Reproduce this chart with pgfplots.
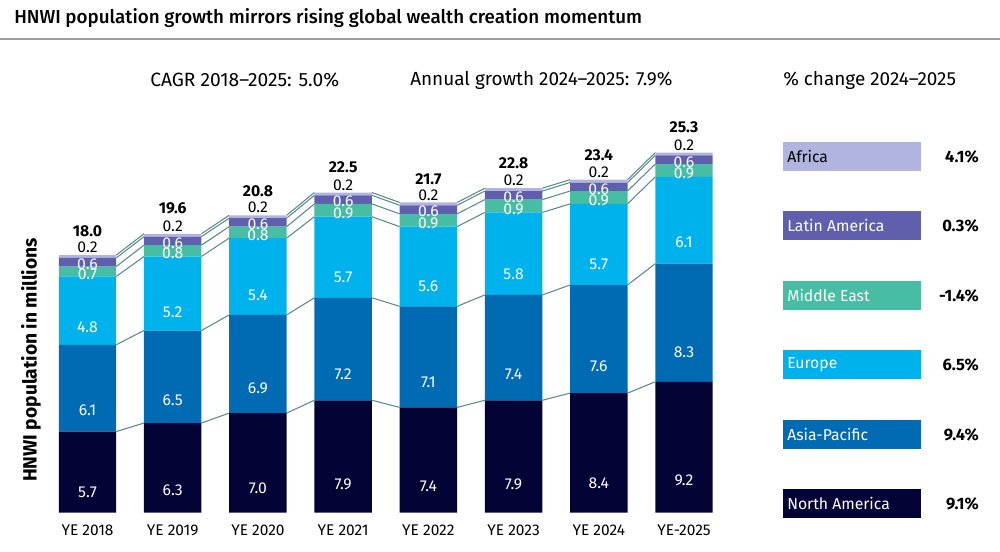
\documentclass[border=0pt]{standalone}
\usepackage{pgfplots}
\pgfplotsset{compat=1.18}
\usepackage{pgfplotstable}
\usepackage{fontspec}
\setmainfont{Fira Sans}
\newfontfamily\titlefont{Fira Sans Medium}

\definecolor{cNA}{HTML}{030336}
\definecolor{cAP}{HTML}{006AB3}
\definecolor{cEU}{HTML}{00B2EB}
\definecolor{cME}{HTML}{47BDA4}
\definecolor{cLA}{HTML}{5F5FAD}
\definecolor{cAF}{HTML}{B0B4DE}
\definecolor{cLink}{HTML}{5E8A8C}

% HNWI population (millions) by region, year-end
\pgfplotstableread{
x  na   ap   eu   me   la   af   tot
0  5.7  6.1  4.8  0.7  0.6  0.2  18.0
1  6.3  6.5  5.2  0.8  0.6  0.2  19.6
2  7.0  6.9  5.4  0.8  0.6  0.2  20.8
3  7.9  7.2  5.7  0.9  0.6  0.2  22.5
4  7.4  7.1  5.6  0.9  0.6  0.2  21.7
5  7.9  7.4  5.8  0.9  0.6  0.2  22.8
6  8.4  7.6  5.7  0.9  0.6  0.2  23.4
7  9.2  8.3  6.1  0.9  0.6  0.2  25.3
}\hnwi
% running sums = segment boundaries of the stacks
\pgfplotstablecreatecol[create col/expr={\thisrow{na}}]{c1}\hnwi
\pgfplotstablecreatecol[create col/expr={\thisrow{c1}+\thisrow{ap}}]{c2}\hnwi
\pgfplotstablecreatecol[create col/expr={\thisrow{c2}+\thisrow{eu}}]{c3}\hnwi
\pgfplotstablecreatecol[create col/expr={\thisrow{c3}+\thisrow{me}}]{c4}\hnwi
\pgfplotstablecreatecol[create col/expr={\thisrow{c4}+\thisrow{la}}]{c5}\hnwi
\pgfplotstablecreatecol[create col/expr={\thisrow{c5}+\thisrow{af}}]{c6}\hnwi

\newcommand{\fs}[1]{\fontsize{#1}{#1}\selectfont}

\pgfplotsset{
  hnwigeom/.style={
    at={(axisorigin)}, anchor=origin,
    scale only axis, width=511.3pt, height=277.5pt,
    xmin=-0.5, xmax=7.5, ymin=0, ymax=26, enlargelimits=false,
  },
}

\begin{document}
\begin{tikzpicture}[x=0.75pt,y=0.75pt]
\useasboundingbox (0,0) rectangle (1000,552);
\coordinate (axisorigin) at (87.5,39.3);

% title and rule
\node[anchor=west, inner sep=0pt] at (14,534) {\fs{14.1}\titlefont HNWI population growth mirrors rising global wealth creation momentum};
\draw[gray!75, line width=1pt] (0,513) -- (1000,513);

% headers
\node[anchor=west, inner sep=0pt] at (150,472) {\fs{14.4}CAGR 2018--2025: 5.0\%};
\node[anchor=west, inner sep=0pt] at (410,472) {\fs{14.2}Annual growth 2024--2025: 7.9\%};
\node[anchor=west, inner sep=0pt] at (783,472) {\fs{14.2}\% change 2024--2025};

% y label
\node[rotate=90, inner sep=0pt] at (31,192) {\fs{14.4}\bfseries HNWI population in millions};

\begin{axis}[
  hnwigeom,
  ybar stacked, bar width=43.1pt,
  axis line style={draw=none}, major tick length=0pt,
  ytick=\empty,
  xtick={0,...,7},
  xticklabels={YE 2018,YE 2019,YE 2020,YE 2021,YE 2022,YE 2023,YE 2024,YE-2025},
  xticklabel style={font=\fs{11.6}, yshift=-5.5pt},
  /pgf/number format/fixed, /pgf/number format/fixed zerofill,
  /pgf/number format/precision=1, /pgf/number format/assume math mode=true,
  nodes near coords,
  visualization depends on=rawy \as \rawy,
  every node near coord/.append style={anchor=center, text=white, font=\fs{11.8},
    shift={(axis direction cs:0,-\rawy/4)}},
]
\addplot[fill=cNA, draw=none] table[x=x, y=na] \hnwi;
\addplot[fill=cAP, draw=none] table[x=x, y=ap] \hnwi;
\addplot[fill=cEU, draw=none] table[x=x, y=eu] \hnwi;
\addplot[fill=cME, draw=none] table[x=x, y=me] \hnwi;
\addplot[fill=cLA, draw=none] table[x=x, y=la] \hnwi;
\addplot[fill=cAF, draw=none,
  every node near coord/.style={anchor=center, text=black, font=\fs{11.8}, yshift=6.75pt}]
  table[x=x, y=af] \hnwi;
\end{axis}

\begin{axis}[
  hnwigeom, hide axis,
  /pgf/number format/fixed, /pgf/number format/fixed zerofill,
  /pgf/number format/precision=1, /pgf/number format/assume math mode=true,
]
% links between the segment boundaries of neighbouring bars
\pgfplotsinvokeforeach{c1,c2,c3,c4,c5,c6}{
  \pgfplotsforeachungrouped \i in {0,...,6}{
    \pgfmathtruncatemacro\j{\i+1}
    \pgfplotstablegetelem{\i}{#1}\of\hnwi \let\ya\pgfplotsretval
    \pgfplotstablegetelem{\j}{#1}\of\hnwi \let\yb\pgfplotsretval
    \pgfmathsetmacro\xa{\i+0.3375}
    \pgfmathsetmacro\xb{\j-0.3375}
    \edef\seg{\noexpand\addplot[cLink, line width=0.8pt, mark=none] coordinates {(\xa,\ya) (\xb,\yb)};}
    \seg
  }
}
% totals
\addplot[draw=none, mark=none, nodes near coords,
  every node near coord/.style={anchor=center, text=black, font=\fs{11.8}\bfseries, yshift=18.75pt}]
  table[x=x, y=tot] \hnwi;
\end{axis}

% legend with 2024-2025 change
\foreach \c/\lab/\tc/\pc/\yy in {
  cAF/Africa/black/4.1/156.7,
  cLA/Latin America/white/0.3/225.8,
  cME/Middle East/white/-1.4/295.5,
  cEU/Europe/white/6.5/364.7,
  cAP/Asia-Pacific/white/9.4/434.7,
  cNA/North America/white/9.1/503.8}{
  \fill[\c] (782.5,{552-\yy-14.35}) rectangle (921,{552-\yy+14.35});
  \node[anchor=west, inner sep=0pt, text=\tc] at (787,{552-\yy}) {\fs{11.8}\lab};
  \node[anchor=east, inner sep=0pt] at (979,{552-\yy}) {\fs{12.4}\bfseries \pc\%};
}
\end{tikzpicture}
\end{document}
